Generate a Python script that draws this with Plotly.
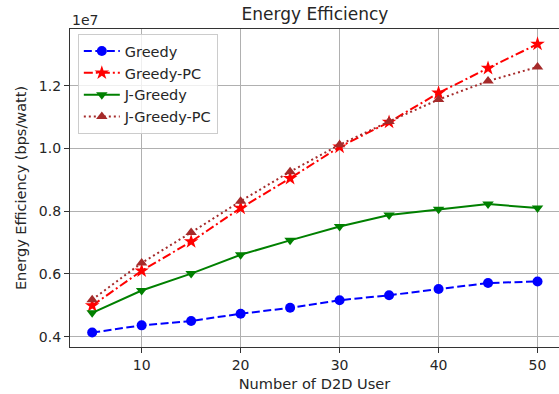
import plotly.graph_objects as go

users = [5, 10, 15, 20, 25, 30, 35, 40, 45, 50]
greedy = [4.13e6, 4.36e6, 4.50e6, 4.73e6, 4.92e6, 5.16e6, 5.32e6, 5.52e6, 5.71e6, 5.76e6]
greedy_pc = [4.99e6, 6.10e6, 7.03e6, 8.10e6, 9.05e6, 1.005e7, 1.084e7, 1.177e7, 1.256e7, 1.333e7]
j_greedy = [4.76e6, 5.47e6, 6.01e6, 6.61e6, 7.07e6, 7.51e6, 7.88e6, 8.06e6, 8.23e6, 8.10e6]
j_greedy_pc = [5.18e6, 6.35e6, 7.32e6, 8.32e6, 9.26e6, 1.012e7, 1.086e7, 1.156e7, 1.215e7, 1.260e7]

ytick_vals = [4e6, 6e6, 8e6, 1.0e7, 1.2e7]
ytick_text = ["0.4", "0.6", "0.8", "1.0", "1.2"]
xtick_vals = [10, 20, 30, 40, 50]

FONT = "DejaVu Sans"
TXT = "#262626"

fig = go.Figure()
fig.add_trace(go.Scatter(x=users, y=greedy, name="Greedy", mode="lines+markers", legendgroup="a",
                         line=dict(color="blue", width=2, dash="8px,3.5px"),
                         marker=dict(symbol="circle", size=10, color="blue")))
fig.add_trace(go.Scatter(x=users, y=greedy_pc, name="Greedy-PC", mode="lines+markers", legendgroup="b",
                         line=dict(color="red", width=2, dash="9px,3px,2px,3px"),
                         marker=dict(symbol="star", size=11, color="red")))
fig.add_trace(go.Scatter(x=users, y=j_greedy, name="J-Greedy", mode="lines+markers", legendgroup="c",
                         line=dict(color="green", width=2),
                         marker=dict(symbol="triangle-down", size=10, color="green")))
fig.add_trace(go.Scatter(x=users, y=j_greedy_pc, name="J-Greedy-PC", mode="lines+markers", legendgroup="d",
                         line=dict(color="brown", width=2, dash="2px,3px"),
                         marker=dict(symbol="triangle-up", size=10, color="brown")))

fig.update_layout(
    width=559, height=394,
    margin=dict(l=70, r=0, t=29, b=47),
    paper_bgcolor="white", plot_bgcolor="white",
    font=dict(family=FONT, size=14, color=TXT),
    title=dict(text="Energy Efficiency", x=(315) / 559, xanchor="center",
               y=1 - 14 / 394, yanchor="middle", font=dict(size=17, color=TXT)),
    showlegend=True,
    legend=dict(x=0.016, y=0.984, xanchor="left", yanchor="top",
                bgcolor="rgba(255,255,255,0.8)", bordercolor="#cccccc", borderwidth=1,
                font=dict(size=14.5, color=TXT), itemwidth=36, tracegroupgap=0),
    xaxis=dict(range=[2.76, 52.17], tickvals=xtick_vals, showgrid=True, gridcolor="#b0b0b0",
               gridwidth=1, zeroline=False, showline=True, linecolor="#333333", linewidth=1.2,
               mirror=True, ticks="outside", ticklen=5, tickcolor="#333333",
               tickfont=dict(size=14),
               title=dict(text="Number of D2D User", standoff=6, font=dict(size=14.6))),
    yaxis=dict(range=[3.67e6, 1.381e7], tickvals=ytick_vals, ticktext=ytick_text, showgrid=True,
               gridcolor="#b0b0b0", gridwidth=1, zeroline=False, showline=True,
               linecolor="#333333", linewidth=1.2, mirror=False, ticks="outside", ticklen=5,
               tickcolor="#333333", tickfont=dict(size=14),
               title=dict(text="Energy Efficiency (bps/watt)", standoff=8, font=dict(size=14.5))),
    annotations=[dict(text="1e7", xref="paper", yref="paper", x=0, y=1, xanchor="left",
                      yanchor="bottom", showarrow=False, font=dict(size=14, color=TXT),
                      yshift=-1)],
)

fig.write_html("out.html", config={"displayModeBar": False},
               post_script="document.body.style.margin='0';")
